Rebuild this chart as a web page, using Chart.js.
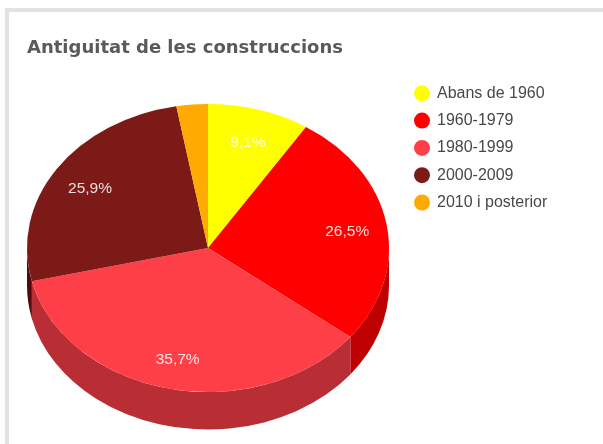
<!DOCTYPE html>
<html lang="ca">
<head>
<meta charset="utf-8">
<title>Antiguitat de les construccions</title>
<script src="https://cdn.jsdelivr.net/npm/chart.js@4"></script>
<style>
html,body{margin:0;padding:0;background:#fff;width:603px;height:444px;overflow:hidden}
#frame{position:absolute;left:5px;top:8px;width:700px;height:600px;border:4px solid #e2e2e2;box-sizing:border-box}
canvas{position:absolute;left:0;top:0;filter:blur(0.45px)}
</style>
</head>
<body>
<div id="frame"></div>
<canvas id="c" width="603" height="444"></canvas>
<script>
const titleText = 'Antiguitat de les construccions';
const categories = ['Abans de 1960', '1960-1979', '1980-1999', '2000-2009', '2010 i posterior'];
const shares = [9.1, 26.5, 35.7, 25.9, 2.8];
const topColors = ['#ffff00', '#ff0000', '#ff3f48', '#7b1a17', '#ffaa00'];
const wallColors = ['#bfbf00', '#bf0000', '#b82e34', '#4f0c0a', '#bf8000'];

const tilt = 144 / 181, depth = 37.5, labelRadius = 0.78, labelDrop = 2, minLabel = 5;
const labelFont = '15.5px "Liberation Sans", Arial, sans-serif';

const pie3d = {
  id: 'pie3d',
  afterLayout(chart) {
    const l = chart.legend;
    l.left = 403.7; l.top = 74; l.right = 600; l.bottom = 230;
  },
  beforeDatasetsDraw(chart) {
    const ctx = chart.ctx, arcs = chart.getDatasetMeta(0).data;
    ctx.save();
    arcs.forEach((a, i) => {
      const s = Math.max(a.startAngle, 0), e = Math.min(a.endAngle, Math.PI);
      if (e <= s) return;
      const R = a.outerRadius;
      ctx.fillStyle = wallColors[i];
      ctx.beginPath();
      ctx.ellipse(a.x, a.y + depth, R, R * tilt, 0, s, e);
      ctx.ellipse(a.x, a.y, R, R * tilt, 0, e, s, true);
      ctx.closePath();
      ctx.fill();
    });
    const c = arcs[0];
    ctx.translate(c.x, c.y);
    ctx.scale(1, tilt);
    ctx.translate(-c.x, -c.y);
  },
  afterDatasetsDraw(chart) {
    const ctx = chart.ctx;
    ctx.restore();
    ctx.save();
    ctx.font = labelFont;
    ctx.fillStyle = 'rgba(255,255,255,0.85)';
    ctx.textAlign = 'center';
    ctx.textBaseline = 'middle';
    chart.getDatasetMeta(0).data.forEach((a, i) => {
      if (shares[i] < minLabel) return;
      const m = (a.startAngle + a.endAngle) / 2, r = a.outerRadius * labelRadius;
      ctx.fillText(shares[i].toFixed(1).replace('.', ',') + '%',
        a.x + Math.cos(m) * r, a.y + Math.sin(m) * r * tilt + labelDrop);
    });
    ctx.restore();
  }
};

new Chart(document.getElementById('c'), {
  type: 'pie',
  data: {
    labels: categories,
    datasets: [{ data: shares, backgroundColor: topColors, borderWidth: 0, clip: false }]
  },
  plugins: [pie3d],
  options: {
    responsive: false,
    animation: false,
    layout: { padding: { left: 27, right: 214, top: 0, bottom: 15 } },
    plugins: {
      tooltip: { enabled: false },
      title: {
        display: true,
        text: titleText,
        align: 'start',
        color: '#5a5a5a',
        font: { family: '"DejaVu Sans", sans-serif', weight: 'bold', size: 18, lineHeight: 1.2 },
        padding: { top: 37.2, bottom: 8.2 }
      },
      legend: {
        position: 'chartArea',
        align: 'start',
        labels: {
          usePointStyle: true,
          pointStyle: 'circle',
          boxWidth: 14,
          boxHeight: 11.3,
          padding: 11.3,
          color: '#484848',
          font: { family: '"Liberation Sans", Arial, sans-serif', size: 16 }
        }
      }
    }
  }
});
</script>
</body>
</html>
